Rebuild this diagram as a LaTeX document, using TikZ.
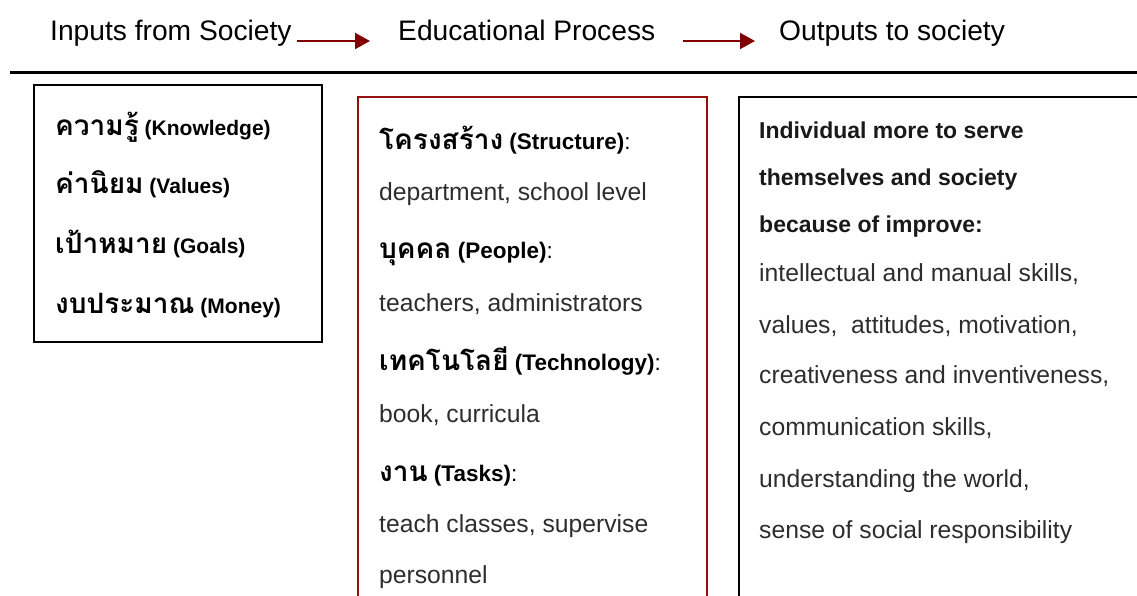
\documentclass[tikz,border=0pt]{standalone}
\usepackage{fontspec}
\setmainfont{Liberation Sans}
\newfontfamily\thaifont[Script=Thai]{Loma}
\usetikzlibrary{arrows.meta}
\definecolor{arrred}{RGB}{128,0,0}
\definecolor{boxred}{RGB}{150,15,15}
\definecolor{txtgray}{RGB}{45,45,45}
\newcommand{\thw}[1]{{\thaifont\bfseries\fontsize{28}{30}\selectfont #1}}
\begin{document}
\begin{tikzpicture}[x=1pt,y=1pt,
  hdr/.style={anchor=base west,inner sep=0,font=\fontsize{28.2}{30}\selectfont},
  item/.style={anchor=base west,inner sep=0,font=\fontsize{21}{24}\selectfont\bfseries},
  head/.style={anchor=base west,inner sep=0,font=\fontsize{22.5}{24}\selectfont\bfseries},
  body/.style={anchor=base west,inner sep=0,text=txtgray,font=\fontsize{24.7}{28}\selectfont},
  lead/.style={anchor=base west,inner sep=0,text=black!90,font=\fontsize{23}{28}\selectfont\bfseries},
  flow/.style={draw=arrred,line width=2pt,-{Triangle[length=15pt,width=16pt]},fill=arrred},
  frame/.style={line width=2pt},
]
\useasboundingbox (0,0) rectangle (1137,-595);
\clip (0,0) rectangle (1137,-595);

% header
\node[hdr] (in)  at (50,-40)  {Inputs from Society};
\node[hdr] (edu) at (398,-40) {Educational Process};
\node[hdr] (out) at (779,-40) {Outputs to society};
\draw[flow] ([xshift=5pt,yshift=-1pt]in.base east) -- ([xshift=-28pt,yshift=-1pt]edu.base west);
\draw[flow] ([xshift=28pt,yshift=-1pt]edu.base east) -- ([xshift=-24pt,yshift=-1pt]out.base west);
\draw[line width=3pt] (10,-72) -- (1137,-72);

% boxes
\draw[frame] (34,-85) rectangle (322,-342);
\draw[frame,draw=boxred,line width=2.2pt] (358,-610) -- (358,-97) -- (707,-97) -- (707,-610);
\draw[frame,line width=1.8pt] (739,-610) -- (739,-97) -- (1150,-97);

% box 1
\node[item] (k) at (55,-135) {\thw{ความรู้} (Knowledge)};
\node[item] (v) at (55,-193) {\thw{ค่านิยม} (Values)};
\node[item] (g) at (55,-253) {\thw{เป้าหมาย} (Goals)};
\node[item] (m) at (55,-313) {\thw{งบประมาณ} (Money)};

% box 2
\node[head] (s1) at (379,-149) {\thw{โครงสร้าง} (Structure)\mdseries:};
\node[body] (s2) at (379,-200) {department, school level};
\node[head] (p1) at (379,-258) {\thw{บุคคล} (People)\mdseries:};
\node[body] (p2) at (379,-311) {teachers, administrators};
\node[head] (t1) at (379,-370) {\thw{เทคโนโลยี} (Technology)\mdseries:};
\node[body] (t2) at (379,-422) {book, curricula};
\node[head] (a1) at (379,-481) {\thw{งาน} (Tasks)\mdseries:};
\node[body] (a2) at (379,-532) {teach classes, supervise};
\node[body] (a3) at (379,-583) {personnel};

% box 3
\node[lead] (o1) at (759,-138) {Individual more to serve};
\node[lead] (o2) at (759,-185) {themselves and society};
\node[lead] (o3) at (759,-232) {because of improve:};
\node[body] (o4) at (759,-281) {intellectual and manual skills,};
\node[body] (o5) at (759,-333) {values,\ \ attitudes, motivation,};
\node[body] (o6) at (759,-383) {creativeness and inventiveness,};
\node[body] (o7) at (759,-435) {communication skills,};
\node[body] (o8) at (759,-487) {understanding the world,};
\node[body] (o9) at (759,-538) {sense of social responsibility};
\end{tikzpicture}
\end{document}
